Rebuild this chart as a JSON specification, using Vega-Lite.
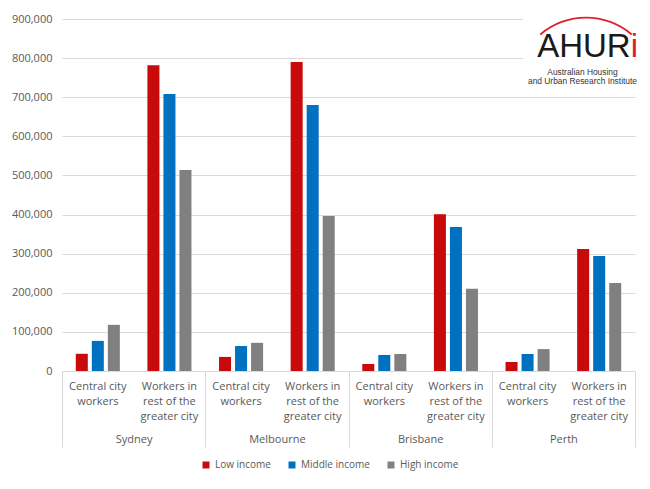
{
  "$schema": "https://vega.github.io/schema/vega-lite/v6.json",
  "width": 573,
  "height": 352,
  "autosize": {"type": "none"},
  "padding": {"left": 62, "top": 19, "right": 15, "bottom": 118},
  "background": "white",
  "config": {
    "view": {"stroke": null},
    "font": "Open Sans",
    "axisY": {"title": null, "grid": true, "gridColor": "#d9d9d9", "domain": false, "ticks": false, "labelPadding": 10, "labelColor": "#595959", "labelFontSize": 11}
  },
  "datasets": {
    "main": [
      {"city": "Sydney", "group": "Sydney|Central city workers", "income": "Low income", "value": 44000},
      {"city": "Sydney", "group": "Sydney|Central city workers", "income": "Middle income", "value": 77000},
      {"city": "Sydney", "group": "Sydney|Central city workers", "income": "High income", "value": 118000},
      {"city": "Sydney", "group": "Sydney|Workers in rest of the greater city", "income": "Low income", "value": 782000},
      {"city": "Sydney", "group": "Sydney|Workers in rest of the greater city", "income": "Middle income", "value": 708000},
      {"city": "Sydney", "group": "Sydney|Workers in rest of the greater city", "income": "High income", "value": 514000},
      {"city": "Melbourne", "group": "Melbourne|Central city workers", "income": "Low income", "value": 36000},
      {"city": "Melbourne", "group": "Melbourne|Central city workers", "income": "Middle income", "value": 64000},
      {"city": "Melbourne", "group": "Melbourne|Central city workers", "income": "High income", "value": 72000},
      {"city": "Melbourne", "group": "Melbourne|Workers in rest of the greater city", "income": "Low income", "value": 790000},
      {"city": "Melbourne", "group": "Melbourne|Workers in rest of the greater city", "income": "Middle income", "value": 680000},
      {"city": "Melbourne", "group": "Melbourne|Workers in rest of the greater city", "income": "High income", "value": 396000},
      {"city": "Brisbane", "group": "Brisbane|Central city workers", "income": "Low income", "value": 18000},
      {"city": "Brisbane", "group": "Brisbane|Central city workers", "income": "Middle income", "value": 41000},
      {"city": "Brisbane", "group": "Brisbane|Central city workers", "income": "High income", "value": 43500},
      {"city": "Brisbane", "group": "Brisbane|Workers in rest of the greater city", "income": "Low income", "value": 401000},
      {"city": "Brisbane", "group": "Brisbane|Workers in rest of the greater city", "income": "Middle income", "value": 368000},
      {"city": "Brisbane", "group": "Brisbane|Workers in rest of the greater city", "income": "High income", "value": 210000},
      {"city": "Perth", "group": "Perth|Central city workers", "income": "Low income", "value": 23000},
      {"city": "Perth", "group": "Perth|Central city workers", "income": "Middle income", "value": 43500},
      {"city": "Perth", "group": "Perth|Central city workers", "income": "High income", "value": 56000},
      {"city": "Perth", "group": "Perth|Workers in rest of the greater city", "income": "Low income", "value": 312000},
      {"city": "Perth", "group": "Perth|Workers in rest of the greater city", "income": "Middle income", "value": 294000},
      {"city": "Perth", "group": "Perth|Workers in rest of the greater city", "income": "High income", "value": 225000}
    ],
    "cities": [
      {"city": "Sydney"}, {"city": "Melbourne"}, {"city": "Brisbane"}, {"city": "Perth"}
    ]
  },
  "layer": [
    {
      "layer": [
        {
          "data": {"name": "main"},
          "mark": {"type": "bar"},
          "encoding": {
            "x": {
              "field": "group", "type": "nominal",
              "scale": {
                "domain": ["Sydney|Central city workers", "Sydney|Workers in rest of the greater city", "Melbourne|Central city workers", "Melbourne|Workers in rest of the greater city", "Brisbane|Central city workers", "Brisbane|Workers in rest of the greater city", "Perth|Central city workers", "Perth|Workers in rest of the greater city"],
                "paddingInner": 0, "paddingOuter": 0
              },
              "axis": {
                "title": null,
                "labelExpr": "indexof(datum.label, 'Central') >= 0 ? ['Central city', 'workers'] : ['Workers in', 'rest of the', 'greater city']",
                "labelAngle": 0, "ticks": false, "grid": false,
                "domainColor": "#d9d9d9", "labelColor": "#595959", "labelFontSize": 11,
                "labelLineHeight": 15, "labelPadding": 9, "labelBaseline": "top",
                "labelOverlap": false, "labelLimit": 200
              }
            },
            "xOffset": {
              "field": "income", "type": "nominal",
              "scale": {"domain": ["Low income", "Middle income", "High income"], "paddingInner": 0.25, "paddingOuter": 0.86}
            },
            "y": {
              "field": "value", "type": "quantitative",
              "scale": {"domain": [0, 900000], "nice": false},
              "axis": {"values": [0, 100000, 200000, 300000, 400000, 500000, 600000, 700000, 800000, 900000], "format": ",d", "title": null}
            },
            "color": {
              "field": "income", "type": "nominal",
              "scale": {"domain": ["Low income", "Middle income", "High income"], "range": ["#c80a0a", "#0070c0", "#808080"]},
              "legend": {
                "title": null, "orient": "none", "legendX": 139, "legendY": 441, "direction": "horizontal",
                "symbolType": "square", "symbolSize": 49, "symbolStrokeWidth": 0, "labelFontSize": 10, "labelColor": "#595959",
                "columnPadding": 16, "labelOffset": 4, "padding": 0
              }
            }
          }
        },
        {
          "data": {"values": [{}]},
          "mark": {"type": "bar", "color": "white", "width": 118, "xOffset": -17},
          "encoding": {
            "x": {"datum": "Perth|Workers in rest of the greater city", "type": "nominal"},
            "y": {"datum": 925000, "type": "quantitative", "axis": {"values": [0, 100000, 200000, 300000, 400000, 500000, 600000, 700000, 800000, 900000], "format": ",d", "title": null}},
            "y2": {"datum": 740000}
          }
        },
        {
          "data": {"values": [{}]},
          "mark": {"type": "arc", "theta": -0.71, "theta2": 0.71, "radius": 71, "radius2": 69.3, "color": "#e0202a", "xOffset": -13.2},
          "encoding": {
            "x": {"datum": "Perth|Workers in rest of the greater city", "type": "nominal"},
            "y": {"datum": 724360, "type": "quantitative", "axis": {"values": [0, 100000, 200000, 300000, 400000, 500000, 600000, 700000, 800000, 900000], "format": ",d", "title": null}}
          }
        },
        {
          "data": {"values": [{}]},
          "mark": {"type": "text", "text": "AHUR", "align": "right", "baseline": "alphabetic", "fontSize": 33, "font": "Liberation Sans", "color": "#1a1a1a", "dx": 31.5},
          "encoding": {
            "x": {"datum": "Perth|Workers in rest of the greater city", "type": "nominal"},
            "y": {"datum": 802841, "type": "quantitative", "axis": {"values": [0, 100000, 200000, 300000, 400000, 500000, 600000, 700000, 800000, 900000], "format": ",d", "title": null}}
          }
        },
        {
          "data": {"values": [{}]},
          "mark": {"type": "text", "text": "i", "align": "right", "baseline": "alphabetic", "fontSize": 33, "font": "Liberation Sans", "color": "#e0202a", "dx": 38.8},
          "encoding": {
            "x": {"datum": "Perth|Workers in rest of the greater city", "type": "nominal"},
            "y": {"datum": 802841, "type": "quantitative", "axis": {"values": [0, 100000, 200000, 300000, 400000, 500000, 600000, 700000, 800000, 900000], "format": ",d", "title": null}}
          }
        },
        {
          "data": {"values": [{}]},
          "mark": {"type": "text", "text": ["Australian Housing", "and Urban Research Institute"], "align": "center", "baseline": "alphabetic", "fontSize": 8.4, "font": "Liberation Sans", "lineHeight": 9, "color": "#333333", "dx": -16.7},
          "encoding": {
            "x": {"datum": "Perth|Workers in rest of the greater city", "type": "nominal"},
            "y": {"datum": 756818, "type": "quantitative", "axis": {"values": [0, 100000, 200000, 300000, 400000, 500000, 600000, 700000, 800000, 900000], "format": ",d", "title": null}}
          }
        }
      ]
    },
    {
      "data": {"name": "cities"},
      "mark": {"type": "point", "opacity": 0},
      "encoding": {
        "x": {
          "field": "city", "type": "nominal",
          "scale": {"domain": ["Sydney", "Melbourne", "Brisbane", "Perth"], "paddingInner": 0, "paddingOuter": 0},
          "axis": {
            "title": null, "orient": "bottom", "tickBand": "extent", "tickSize": 76, "tickColor": "#d9d9d9",
            "domain": false, "labelPadding": -14, "labelColor": "#595959", "labelFontSize": 11,
            "labelAngle": 0, "grid": false, "labelBaseline": "top"
          }
        }
      }
    }
  ],
  "resolve": {"scale": {"x": "independent"}, "axis": {"x": "independent"}}
}
